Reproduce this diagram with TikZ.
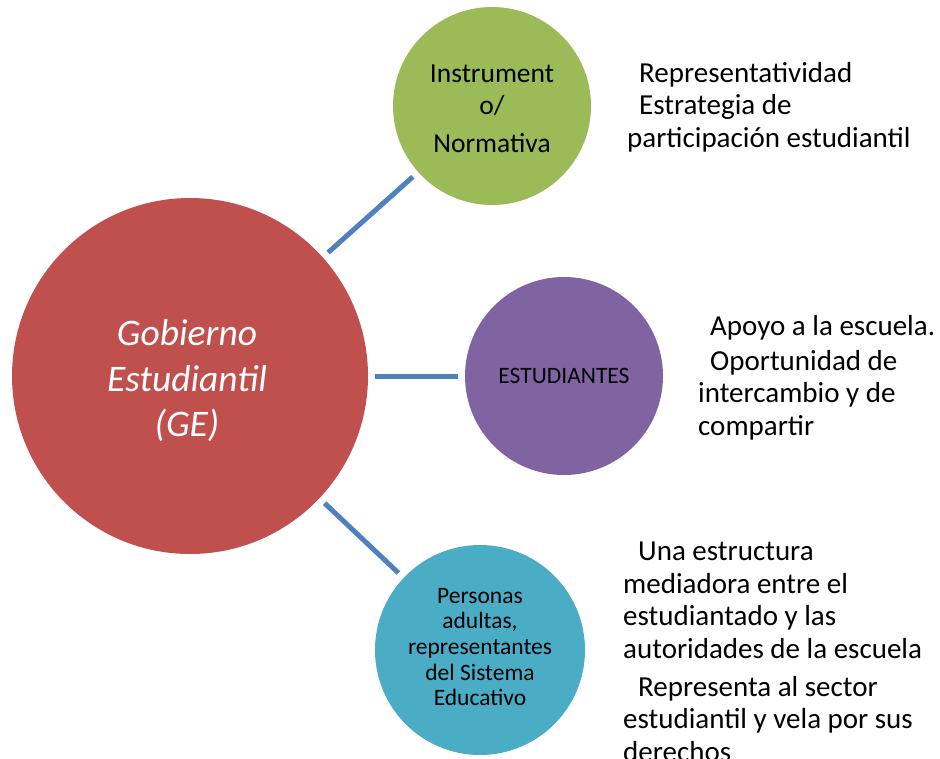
\documentclass[tikz,border=0pt]{standalone}
\usepackage{fontspec}
\setmainfont{Carlito}
\definecolor{cred}{HTML}{C0504D}
\definecolor{cgreen}{HTML}{9BBB59}
\definecolor{cpurple}{HTML}{8064A2}
\definecolor{ccyan}{HTML}{4BACC6}
\definecolor{cline}{HTML}{4F81BD}
\tikzset{
  bubble/.style={circle, inner sep=0pt, align=center, text=black},
  link/.style={draw=cline, line width=5pt, shorten >=7pt, shorten <=7pt},
  side/.style={anchor=base west, inner sep=0pt, align=left, font=\fontsize{29}{32.5}\selectfont},
}
\begin{document}
\begin{tikzpicture}[x=1pt,y=-1pt]
\useasboundingbox (0,0) rectangle (940,758);
\clip (0,0) rectangle (940,758);
\node[bubble, fill=cred, minimum size=356pt] (ge) at (190,376) {};
\node[text=white, align=center, font=\fontsize{37.5}{45.5}\selectfont\itshape] (get) at (187,381) {Gobierno\\Estudiantil\\(GE)};
\node[bubble, fill=cgreen, minimum size=198pt] (ins) at (492,106) {};
\node[align=center, font=\fontsize{27.5}{32}\selectfont] (inst) at (492,109) {Instrument\\o/\\[6pt]Normativa};
\node[bubble, fill=cpurple, minimum size=198pt, font=\fontsize{23.5}{28}\selectfont] (est) at (564,376) {ESTUDIANTES};
\node[bubble, fill=ccyan, minimum size=210pt] (per) at (480,650) {};
\node[align=center, font=\fontsize{23.5}{25.7}\selectfont] (pert) at (480,647) {Personas\\adultas,\\representantes\\del Sistema\\Educativo};
\draw[link] (ge) -- (ins);
\draw[link] (ge) -- (est);
\draw[link] (ge) -- (per);
\node[side] (t1) at (627,82) {\hspace*{12pt}Representatividad};
\node[side] (t2) at (627,147) {\hspace*{12pt}Estrategia de\\participación estudiantil};
\node[side] (t3) at (698,335) {\hspace*{12pt}Apoyo a la escuela.};
\node[side] (t4) at (698,435) {\hspace*{12pt}Oportunidad de\\intercambio y de\\compartir};
\node[side] (t5) at (623,658) {\hspace*{15pt}Una estructura\\mediadora entre el\\estudiantado y las\\autoridades de la escuela};
\node[side] (t6) at (623,761) {\hspace*{15pt}Representa al sector\\estudiantil y vela por sus\\derechos};
\end{tikzpicture}
\end{document}
